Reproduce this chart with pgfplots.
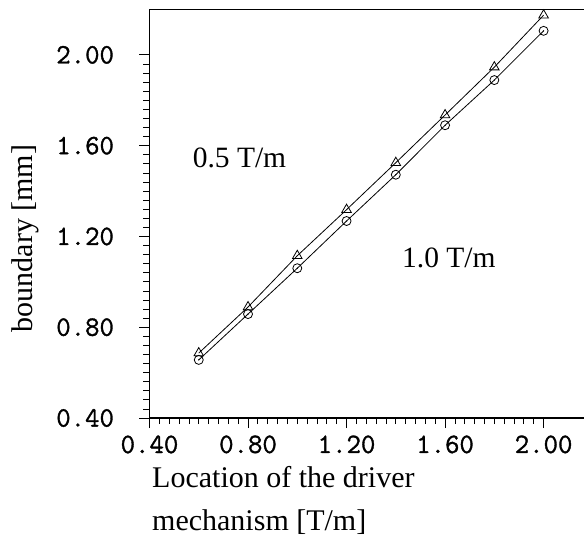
\documentclass[border=0pt]{standalone}
\usepackage{fontspec}
\setmainfont{Liberation Serif}
\setmonofont{Latin Modern Mono}[FakeBold=1.2]
\usepackage{pgfplots}
\pgfplotsset{compat=1.18}
\pgfdeclareplotmark{odot}{%
  \pgfpathcircle{\pgfpointorigin}{\pgfplotmarksize}\pgfusepathqstroke
  \pgfpathcircle{\pgfpointorigin}{0.7pt}\pgfusepathqfill}
\begin{document}
\begin{tikzpicture}
\useasboundingbox (-149.5pt,-126pt) rectangle (434.5pt,418pt);
\begin{axis}[
  at={(0,0)}, anchor=south west, scale only axis,
  width=434.5pt, height=408.5pt,
  xmin=0.4, xmax=2.164, ymin=0.4, ymax=2.2,
  axis x line*=bottom, axis y line*=left,
  axis line style={line width=1.2pt, -},
  xtick={0.4,0.8,1.2,1.6,2.0}, ytick={0.4,0.8,1.2,1.6,2.0},
  minor tick num=9, tick align=outside,
  major tick length=10pt, minor tick length=6pt,
  every tick/.style={line width=0.8pt, black},
  /pgf/number format/.cd, fixed, fixed zerofill, precision=2, assume math mode=true,
  /pgfplots/.cd,
  tick label style={font=\fontsize{28}{28}\ttfamily},
  yticklabel style={xshift=-22pt},
  xticklabel style={yshift=-4pt},
  clip=false,
]
\draw[line width=1.2pt] (rel axis cs:0,1) -- (rel axis cs:1,1);
\addplot[black, line width=0.8pt, mark=triangle, mark size=5.5pt, mark options={solid, line width=0.8pt}]
  coordinates {(0.6,0.686) (0.8,0.889) (1.0,1.115) (1.2,1.318) (1.4,1.525) (1.6,1.735) (1.8,1.946) (2.0,2.175)};
\addplot[black, line width=0.8pt, mark=odot, mark size=4.5pt, mark options={solid, line width=0.8pt}]
  coordinates {(0.6,0.656) (0.8,0.858) (1.0,1.060) (1.2,1.268) (1.4,1.472) (1.6,1.690) (1.8,1.889) (2.0,2.106)};
\node[anchor=base west, font=\fontsize{29.5}{29.5}\selectfont, inner sep=0pt] at (axis cs:0.575,1.506) {0.5 T/m};
\node[anchor=base west, font=\fontsize{29.5}{29.5}\selectfont, inner sep=0pt] at (axis cs:1.425,1.061) {1.0 T/m};
\node[rotate=90, anchor=base, font=\fontsize{30}{30}\selectfont, inner sep=0pt] at ([xshift=-116.5pt]rel axis cs:0,0.4394) {boundary [mm]};
\node[anchor=base west, font=\fontsize{30}{30}\selectfont, inner sep=0pt] at ([xshift=2.5pt,yshift=-69pt]rel axis cs:0,0) {Location of the driver};
\node[anchor=base west, font=\fontsize{30}{30}\selectfont, inner sep=0pt] at ([xshift=2.5pt,yshift=-112pt]rel axis cs:0,0) {mechanism [T/m]};
\end{axis}
\end{tikzpicture}
\end{document}
